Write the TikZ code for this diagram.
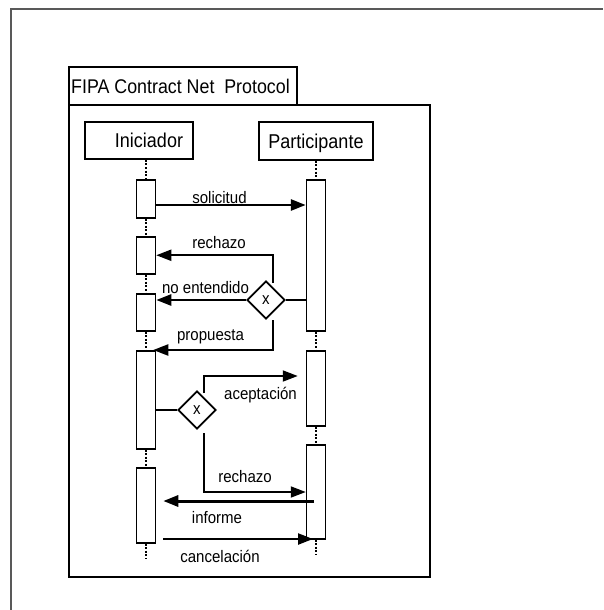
\documentclass[tikz,border=0pt]{standalone}
\usepackage{fontspec}
\setmainfont{Liberation Sans}
\newfontfamily\narrowsans[FakeStretch=0.9]{Liberation Sans}
\usetikzlibrary{arrows.meta,shapes.geometric}
\begin{document}
\begin{tikzpicture}[x=1pt,y=-1pt,
  outerframe/.style={draw=black!65, line width=1.8pt},
  framebox/.style={draw, line width=1.6pt, inner sep=0pt, anchor=north west},
  headbox/.style={draw, line width=1.6pt, inner sep=0pt},
  actbox/.style={draw, line width=1.5pt, fill=white, minimum width=19pt, inner sep=0pt, anchor=north},
  lifeline/.style={line width=1.6pt, dash pattern=on 2pt off 1.6pt},
  decision/.style={diamond, draw, line width=1.8pt, fill=white, minimum width=38pt, minimum height=38pt, inner sep=0pt, font=\narrowsans\fontsize{16.7}{19}\selectfont},
  msg/.style={line width=#1, -{Triangle[length=15pt,width=11pt]}},
  msg/.default=2.2pt,
  link/.style={line width=2pt},
  lbl/.style={anchor=base, inner sep=0pt, font=\narrowsans\fontsize{16.7}{19}\selectfont},
  headlbl/.style={anchor=base, inner sep=0pt, font=\narrowsans\fontsize{20}{23}\selectfont},
]
\useasboundingbox (0,0) rectangle (603,610);

% page border
\draw[outerframe] (11,610) -- (11,9) -- (603,9);

% protocol frame and its title tab
\node[framebox, minimum width=361pt, minimum height=472pt] (frame) at (68,104) {};
\node[framebox, minimum width=228pt, minimum height=38pt] (tab) at (68,66) {};
\node[anchor=base west, inner sep=0pt, font=\narrowsans\fontsize{19.8}{23}\selectfont] (tabtext) at (71,93) {FIPA Contract Net\ \ Protocol};

% role heads
\node[headbox, minimum width=108pt, minimum height=37pt] (hI) at (139,140.5) {};
\node[headlbl] (hItext) at (149,147.5) {Iniciador};
\node[headbox, minimum width=114pt, minimum height=38pt] (hP) at (316,141) {};
\node[headlbl] (hPtext) at (316,148) {Participante};

% lifeline ends
\coordinate (iEnd) at (146,558);
\coordinate (pEnd) at (316,555);

% activation bars, Iniciador
\node[actbox, minimum height=38pt] (i1) at (146,179) {};
\node[actbox, minimum height=37pt] (i2) at (146,236) {};
\node[actbox, minimum height=37pt] (i3) at (146,293) {};
\node[actbox, minimum height=98pt] (i4) at (146,350) {};
\node[actbox, minimum height=75pt] (i5) at (146,467) {};
% activation bars, Participante
\node[actbox, minimum height=151pt] (p1) at (316,179) {};
\node[actbox, minimum height=75pt] (p2) at (316,350) {};
\node[actbox, minimum height=94pt] (p3) at (316,444) {};

% lifelines
\draw[lifeline] (i1.north |- hI.south) -- (i1.north);
\draw[lifeline] (i1.south) -- (i2.north);
\draw[lifeline] (i2.south) -- (i3.north);
\draw[lifeline] (i3.south) -- (i4.north);
\draw[lifeline] (i4.south) -- (i5.north);
\draw[lifeline] (i5.south) -- (iEnd);
\draw[lifeline] (p1.north |- hP.south) -- (p1.north);
\draw[lifeline] (p1.south) -- (p2.north);
\draw[lifeline] (p2.south) -- (p3.north);
\draw[lifeline] (p3.south) -- (pEnd);

% decision points
\node[decision] (d1) at (266,300) {x};
\node[decision] (d2) at (197,410) {x};

% message rows and branch starts
\coordinate (ySol) at (0,205);
\coordinate (r1s) at (273,283);
\coordinate (prs) at (273,320);
\coordinate (acs) at (204,393);
\coordinate (yAc) at (0,376);
\coordinate (r2s) at (204,433);
\coordinate (yR2) at (0,492);
\coordinate (yInf) at (0,501);
\coordinate (yCan) at (0,539);

% messages
\draw[msg=2.8pt] (i1.east |- ySol) -- (p1.west |- ySol);
\draw[msg=2pt] (r1s) |- (i2.east);
\draw[msg=2.6pt] (d1.west) -- (i3.east |- d1.west);
\draw[link] (d1.east) -- (p1.west |- d1.east);
\draw[msg=2.2pt] (prs) |- ([xshift=-3pt]i4.north east);
\draw[link] (i4.east |- d2.west) -- (d2.west);
\draw[msg=1.8pt] (acs) |- ([xshift=-8pt]p2.west |- yAc);
\draw[msg=1.8pt] (r2s) |- (p3.west |- yR2);
\draw[msg=3pt] ([xshift=-2pt]p3.center |- yInf) -- ([xshift=7pt]i5.east |- yInf);
\draw[msg=2.3pt] ([xshift=7pt]i5.east |- yCan) -- ([xshift=-3pt]p3.center |- yCan);

% message labels
\node[lbl] (lSol) at (219.5,203) {solicitud};
\node[lbl] (lRe1) at (219,248) {rechazo};
\node[lbl] (lNoE) at (205.5,293) {no entendido};
\node[lbl] (lPro) at (210.5,340) {propuesta};
\node[lbl] (lAce) at (260.5,399) {aceptación};
\node[lbl] (lRe2) at (245,482) {rechazo};
\node[lbl] (lInf) at (217,523) {informe};
\node[lbl] (lCan) at (220,562) {cancelación};
\end{tikzpicture}
\end{document}
